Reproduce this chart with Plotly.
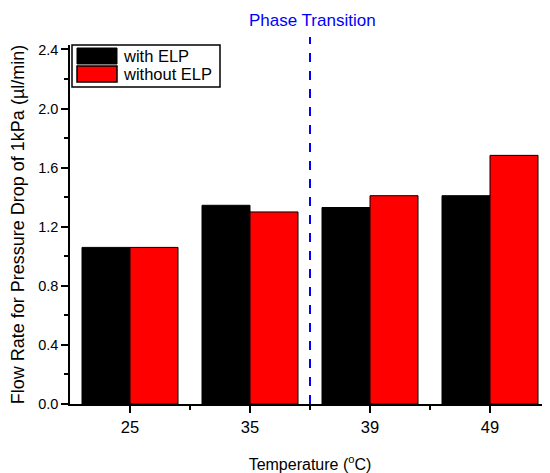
import plotly.graph_objects as go

categories = ["25", "35", "39", "49"]
with_elp = [1.06, 1.345, 1.33, 1.41]
without_elp = [1.06, 1.30, 1.41, 1.683]
series_names = ["with ELP", "without ELP"]
y_ticks = [0.0, 0.4, 0.8, 1.2, 1.6, 2.0, 2.4]
y_minor = [0.2, 0.6, 1.0, 1.4, 1.8, 2.2]
phase_x = 1.5

FONT = "Liberation Sans, Arial, sans-serif"
OFF = 8  # default page body margin
W, H = 550 - OFF, 473 - OFF
L, R, T, B = 62, 0, 37, 69
PW, PH = W - L - R, H - T - B


def px(x):  # screen x -> paper
    return (x - OFF - L) / PW


def py(y):  # screen y -> paper
    return (H - B - (y - OFF)) / PH


xs = list(range(len(categories)))
fig = go.Figure()
fig.add_trace(go.Bar(x=xs, y=with_elp, name=series_names[0],
                     marker=dict(color="#000000", line=dict(color="#000000", width=1))))
fig.add_trace(go.Bar(x=xs, y=without_elp, name=series_names[1],
                     marker=dict(color="#ff0000", line=dict(color="#000000", width=1))))

shapes = [
    dict(type="line", xref="x", yref="paper", x0=phase_x, x1=phase_x, y0=0, y1=py(37),
         line=dict(color="#0000ff", width=2, dash="dash")),
    # legend box
    dict(type="rect", xref="paper", yref="paper", x0=px(72), x1=px(220), y0=py(87), y1=py(45),
         line=dict(color="#000000", width=1.5), fillcolor="white"),
    dict(type="rect", xref="paper", yref="paper", x0=px(77), x1=px(117), y0=py(64), y1=py(48),
         line=dict(color="#000000", width=1), fillcolor="#000000"),
    dict(type="rect", xref="paper", yref="paper", x0=px(77), x1=px(117), y0=py(82), y1=py(66),
         line=dict(color="#000000", width=1.5), fillcolor="#ff0000"),
]
annotations = [
    dict(text="Phase Transition", xref="paper", yref="paper", x=px(312), y=py(21),
         showarrow=False, font=dict(family=FONT, size=17, color="#0000ff"),
         xanchor="center", yanchor="middle"),
    dict(text=series_names[0], xref="paper", yref="paper", x=px(121), y=py(56),
         showarrow=False, font=dict(family=FONT, size=16.5, color="#000000"),
         xanchor="left", yanchor="middle"),
    dict(text=series_names[1], xref="paper", yref="paper", x=px(121), y=py(74),
         showarrow=False, font=dict(family=FONT, size=16.5, color="#000000"),
         xanchor="left", yanchor="middle"),
]

fig.update_layout(
    width=W, height=H,
    margin=dict(l=L, r=R, t=T, b=B, pad=0, autoexpand=False),
    paper_bgcolor="white", plot_bgcolor="white",
    barmode="group", bargap=0.2, bargroupgap=0,
    showlegend=False,
    font=dict(family=FONT, size=14, color="#000000"),
    shapes=shapes, annotations=annotations,
)
fig.update_xaxes(
    range=[-0.5, 3.5], tickmode="array", tickvals=xs, ticktext=categories,
    showline=True, linecolor="#000000", linewidth=1.5, mirror=False,
    ticks="outside", ticklen=7, tickwidth=1.5, tickcolor="#000000",
    minor=dict(tickmode="array", tickvals=[0.5, 1.5, 2.5], ticks="outside", ticklen=4,
               tickwidth=1.5, tickcolor="#000000"),
    showgrid=False, zeroline=False, automargin=False,
    tickfont=dict(size=16.5),
    title=dict(text="Temperature (<sup>o</sup>C)", font=dict(size=16), standoff=26),
)
fig.update_yaxes(
    range=[0, 2.43], tickmode="array", tickvals=y_ticks,
    ticktext=[f"{v:.1f}" for v in y_ticks],
    showline=True, linecolor="#000000", linewidth=1.5, mirror=False,
    ticks="outside", ticklen=7, tickwidth=1.5, tickcolor="#000000",
    minor=dict(tickmode="array", tickvals=y_minor, ticks="outside",
               ticklen=4, tickwidth=1.5, tickcolor="#000000"),
    showgrid=False, zeroline=False, automargin=False,
    tickfont=dict(size=14.5),
    title=dict(text="Flow Rate for Pressure Drop of 1kPa (\u00b5l/min)", font=dict(size=18), standoff=10),
)

fig.write_html("out.html")
